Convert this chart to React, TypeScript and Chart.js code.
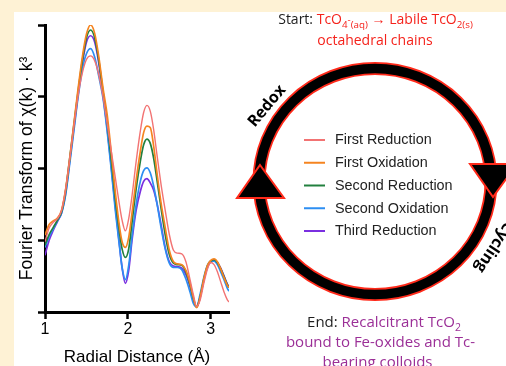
import React, { useEffect, useRef } from "react";
import { Chart, registerables } from "chart.js";

Chart.register(...registerables);

// ---------------- data ----------------
const radialDistance = [
  1.0, 1.05, 1.1, 1.15, 1.2, 1.25, 1.3, 1.35, 1.4, 1.45, 1.5, 1.55, 1.6, 1.65, 1.7, 1.75, 1.8, 1.85, 1.9, 1.93,
  1.97, 2.01, 2.05, 2.1, 2.15, 2.19, 2.23, 2.27, 2.31, 2.35, 2.4, 2.45, 2.5, 2.55, 2.6, 2.65, 2.7, 2.75, 2.79, 2.83,
  2.87, 2.92, 2.96, 3.0, 3.04, 3.08, 3.12, 3.16, 3.2, 3.22,
];

const firstReduction = [
  0.98, 1.17, 1.25, 1.3, 1.42, 1.72, 2.15, 2.6, 3.02, 3.33, 3.52, 3.57, 3.5, 3.3, 3.0, 2.62, 2.24, 1.86, 1.48, 1.28,
  1.13, 1.3, 1.62, 2.1, 2.52, 2.78, 2.88, 2.8, 2.55, 2.2, 1.78, 1.42, 1.08, 0.86, 0.82, 0.81, 0.7, 0.45, 0.24, 0.08,
  0.16, 0.42, 0.6, 0.69, 0.66, 0.56, 0.42, 0.28, 0.17, 0.14,
];

const firstOxidation = [
  1.07, 1.22, 1.27, 1.31, 1.42, 1.72, 2.16, 2.64, 3.12, 3.55, 3.87, 4.0, 3.88, 3.55, 3.12, 2.75, 2.22, 1.65, 1.18, 0.98,
  0.9, 1.04, 1.38, 1.84, 2.24, 2.5, 2.59, 2.57, 2.32, 1.95, 1.52, 1.18, 0.86, 0.7, 0.67, 0.66, 0.58, 0.4, 0.2, 0.06,
  0.2, 0.48, 0.65, 0.72, 0.74, 0.7, 0.6, 0.48, 0.37, 0.34,
];

const secondReduction = [
  0.93, 1.08, 1.18, 1.28, 1.4, 1.7, 2.16, 2.62, 3.08, 3.5, 3.82, 3.93, 3.82, 3.5, 3.07, 2.64, 2.12, 1.56, 1.1, 0.88,
  0.76, 0.88, 1.25, 1.72, 2.1, 2.33, 2.41, 2.35, 2.15, 1.85, 1.45, 1.08, 0.8, 0.68, 0.66, 0.65, 0.56, 0.38, 0.19, 0.07,
  0.2, 0.47, 0.64, 0.71, 0.73, 0.69, 0.6, 0.49, 0.38, 0.34,
];

const secondOxidation = [
  0.9, 1.05, 1.16, 1.27, 1.38, 1.64, 2.08, 2.54, 3.0, 3.38, 3.6, 3.67, 3.55, 3.28, 2.98, 2.52, 1.98, 1.4, 0.9, 0.62,
  0.45, 0.65, 1.05, 1.5, 1.82, 1.97, 2.01, 1.94, 1.76, 1.52, 1.18, 0.88, 0.68, 0.62, 0.62, 0.59, 0.46, 0.28, 0.12, 0.07,
  0.24, 0.5, 0.65, 0.71, 0.71, 0.66, 0.56, 0.45, 0.33, 0.29,
];

const thirdReduction = [
  0.79, 1.0, 1.14, 1.26, 1.38, 1.66, 2.12, 2.58, 3.04, 3.46, 3.76, 3.85, 3.76, 3.46, 3.02, 2.56, 2.02, 1.45, 0.92, 0.62,
  0.4, 0.58, 1.0, 1.42, 1.68, 1.82, 1.86, 1.8, 1.7, 1.52, 1.22, 0.9, 0.7, 0.64, 0.63, 0.61, 0.52, 0.35, 0.17, 0.07,
  0.2, 0.46, 0.62, 0.7, 0.72, 0.69, 0.61, 0.5, 0.39, 0.35,
];

const seriesLabels = ["First Reduction", "First Oxidation", "Second Reduction", "Second Oxidation", "Third Reduction"];
const seriesValues = [firstReduction, firstOxidation, secondReduction, secondOxidation, thirdReduction];
const seriesColors = ["#F27373", "#F58420", "#22803F", "#2D8EF2", "#7A2FE0"];

const xTickValues = [1, 2, 3];
const yTickValues = [0, 1, 2, 3, 4];

const xTitle = "Radial Distance (Å)";
const yTitle = "Fourier Transform of χ(k) · k³";

const RED = "#F5221B";
const PURPLE = "#9B2F97";
const INK = "#1e1e1e";

type Seg = { t: string; c: string; pos?: "sub" | "sup" };

const startLine1: Seg[] = [
  { t: "Start: ", c: INK },
  { t: "TcO", c: RED },
  { t: "4", c: RED, pos: "sub" },
  { t: "-", c: RED, pos: "sup" },
  { t: "(aq)", c: RED, pos: "sub" },
  { t: " → Labile TcO", c: RED },
  { t: "2(s)", c: RED, pos: "sub" },
];
const startLine2: Seg[] = [{ t: "octahedral chains", c: RED }];
const endLine1: Seg[] = [
  { t: "End: ", c: INK },
  { t: "Recalcitrant TcO", c: PURPLE },
  { t: "2", c: PURPLE, pos: "sub" },
];
const endLine2: Seg[] = [{ t: "bound to Fe-oxides and Tc-", c: PURPLE }];
const endLine3: Seg[] = [{ t: "bearing colloids", c: PURPLE }];

const TEXT_FONT = "'Open Sans', sans-serif";

function drawRich(ctx: CanvasRenderingContext2D, segs: Seg[], cx: number, baseline: number, size: number) {
  const small = size * 0.7;
  const widths = segs.map((s) => {
    ctx.font = `${s.pos ? small : size}px ${TEXT_FONT}`;
    return ctx.measureText(s.t).width;
  });
  const total = widths.reduce((a, b) => a + b, 0);
  let x = cx - total / 2;
  ctx.textAlign = "left";
  ctx.textBaseline = "alphabetic";
  segs.forEach((s, i) => {
    ctx.font = `${s.pos ? small : size}px ${TEXT_FONT}`;
    ctx.fillStyle = s.c;
    const dy = s.pos === "sub" ? size * 0.28 : s.pos === "sup" ? -size * 0.05 : 0;
    ctx.fillText(s.t, x, baseline + dy);
    x += widths[i];
  });
}

const backgroundPlugin = {
  id: "pageBackground",
  beforeDraw(chart: any) {
    const ctx = chart.ctx as CanvasRenderingContext2D;
    ctx.save();
    ctx.fillStyle = "#FEF2D5";
    ctx.fillRect(0, 0, chart.width, chart.height);
    ctx.fillStyle = "#FFFFFF";
    ctx.fillRect(14, 12, chart.width - 14, chart.height - 12);
    ctx.restore();
  },
};

const diagramPlugin = {
  id: "cycleDiagram",
  afterDraw(chart: any) {
    const ctx = chart.ctx as CanvasRenderingContext2D;
    ctx.save();
    const cx = 375;
    const cy = 181.5;
    // ring
    ctx.beginPath();
    ctx.ellipse(cx, cy, 116, 113, 0, 0, Math.PI * 2);
    ctx.strokeStyle = "#FF2A1A";
    ctx.lineWidth = 13;
    ctx.stroke();
    ctx.beginPath();
    ctx.ellipse(cx, cy, 116, 113, 0, 0, Math.PI * 2);
    ctx.strokeStyle = "#000";
    ctx.lineWidth = 9.5;
    ctx.stroke();

    // arrow heads
    const tri = (pts: number[][]) => {
      ctx.beginPath();
      ctx.moveTo(pts[0][0], pts[0][1]);
      ctx.lineTo(pts[1][0], pts[1][1]);
      ctx.lineTo(pts[2][0], pts[2][1]);
      ctx.closePath();
      ctx.fillStyle = "#000";
      ctx.fill();
      ctx.strokeStyle = "#FF2A1A";
      ctx.lineWidth = 2;
      ctx.lineJoin = "miter";
      ctx.stroke();
    };
    tri([
      [260, 165],
      [284, 198],
      [237, 198],
    ]);
    tri([
      [470, 164],
      [517, 164],
      [493, 197],
    ]);

    // curved labels
    ctx.fillStyle = "#000";
    ctx.font = `bold 16px ${TEXT_FONT}`;
    ctx.textAlign = "center";
    ctx.textBaseline = "middle";
    ctx.save();
    ctx.translate(267, 106);
    ctx.rotate((-50 * Math.PI) / 180);
    ctx.fillText("Redox", 0, 0);
    ctx.restore();
    ctx.save();
    ctx.translate(494, 247);
    ctx.rotate((123 * Math.PI) / 180);
    ctx.fillText("Cycling", 0, 0);
    ctx.restore();

    // legend inside the circle, built from the datasets
    const rowY0 = 140;
    const rowGap = 22.75;
    chart.data.datasets.forEach((ds: any, i: number) => {
      const y = rowY0 + i * rowGap;
      ctx.beginPath();
      ctx.moveTo(304, y);
      ctx.lineTo(325, y);
      ctx.strokeStyle = ds.borderColor;
      ctx.lineWidth = 2;
      ctx.stroke();
      ctx.fillStyle = "#222";
      ctx.font = "14.4px 'Liberation Sans', Arial, sans-serif";
      ctx.textAlign = "left";
      ctx.textBaseline = "middle";
      ctx.fillText(ds.label, 335, y + 0.5);
    });

    // top & bottom notes
    drawRich(ctx, startLine1, 375.5, 24, 14);
    drawRich(ctx, startLine2, 375, 45, 14);
    drawRich(ctx, endLine1, 384, 327, 15);
    drawRich(ctx, endLine2, 380.5, 347, 15);
    drawRich(ctx, endLine3, 377.5, 367, 15);
    ctx.restore();
  },
};

export default function App() {
  const canvasRef = useRef<HTMLCanvasElement | null>(null);

  useEffect(() => {
    if (!canvasRef.current) return;
    const datasets = seriesLabels.map((label, s) => ({
      label,
      data: radialDistance.map((x, i) => ({ x, y: seriesValues[s][i] })),
      borderColor: seriesColors[s],
      backgroundColor: seriesColors[s],
      borderWidth: s === 0 ? 1.4 : 1.7,
      pointRadius: 0,
      cubicInterpolationMode: "monotone" as const,
      fill: false,
    }));

    const chart = new Chart(canvasRef.current, {
      type: "line",
      data: { datasets },
      options: {
        animation: false,
        responsive: false,
        devicePixelRatio: 1,
        layout: { padding: { left: 0, top: 25, right: 277, bottom: 0 } },
        plugins: {
          legend: { display: false },
          tooltip: { enabled: false },
        },
        scales: {
          x: {
            type: "linear",
            min: 1,
            max: 3.22,
            afterFit: (s: any) => {
              s.height = 54;
            },
            afterBuildTicks: (s: any) => {
              s.ticks = xTickValues.map((v) => ({ value: v }));
            },
            ticks: {
              includeBounds: false,
              color: "#000",
              padding: 1,
              font: { family: "'Liberation Sans', Arial, sans-serif", size: 16 },
              callback: (v: any) => String(v),
              maxRotation: 0,
            },
            grid: {
              display: true,
              drawOnChartArea: false,
              drawTicks: true,
              tickLength: 7,
              tickWidth: 2.5,
              tickColor: "#000",
            },
            border: { display: true, color: "#000", width: 3 },
            title: {
              display: true,
              text: xTitle,
              color: "#000",
              font: { family: "'Liberation Sans', Arial, sans-serif", size: 17, lineHeight: 1 },
              padding: { top: 0, bottom: 0 },
            },
          },
          y: {
            type: "linear",
            min: 0,
            max: 4,
            afterFit: (s: any) => {
              s.width = 45;
            },
            afterBuildTicks: (s: any) => {
              s.ticks = yTickValues.map((v) => ({ value: v }));
            },
            ticks: {
              callback: () => "",
              padding: 0,
            },
            grid: {
              display: true,
              drawOnChartArea: false,
              drawTicks: true,
              tickLength: 7,
              tickWidth: 2.5,
              tickColor: "#000",
            },
            border: { display: true, color: "#000", width: 3 },
            title: {
              display: true,
              text: yTitle,
              color: "#000",
              font: { family: "'Liberation Sans', Arial, sans-serif", size: 17.5, lineHeight: 1 },
              padding: { top: 18.5, bottom: 0 },
            },
          },
        },
      },
      plugins: [backgroundPlugin, diagramPlugin],
    });
    return () => chart.destroy();
  }, []);

  return (
    <div style={{ position: "fixed", left: 0, top: 0, width: 506, height: 366, overflow: "hidden" }}>
      <canvas ref={canvasRef} width={506} height={366} style={{ display: "block", width: 506, height: 366 }} />
    </div>
  );
}
